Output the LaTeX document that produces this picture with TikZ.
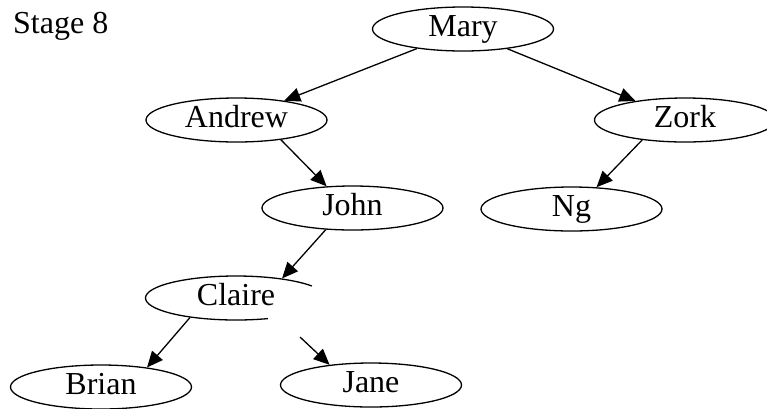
\documentclass[tikz,border=0pt]{standalone}
\usepackage{fontspec}
\setmainfont{Liberation Serif}
\usetikzlibrary{shapes.geometric,arrows.meta}

\begin{document}
\begin{tikzpicture}[x=1pt,y=1pt,
    person/.style={ellipse,draw,line width=1.3pt,
        minimum width=181pt,minimum height=44pt,inner sep=0pt,
        font=\fontsize{32}{38}\selectfont,text height=20pt,text depth=6pt},
    parentof/.style={line width=1.3pt,-{Triangle[length=16pt,width=14pt]}}]
  % ------- parameters -------
  \def\RX{90.5}   % horizontal radius of the ellipses
  \def\RY{22}     % vertical radius of the ellipses

  \useasboundingbox (0,0) rectangle (767,-408);

  % ------- title -------
  \node[anchor=base west,inner sep=0pt,font=\fontsize{32}{38}\selectfont]
        (stage) at (13,-33) {Stage 8};

  % ------- tree nodes -------
  \node[person] (mary)   at (463,-29)    {Mary};
  \node[person] (andrew) at (236.5,-120) {Andrew};
  \node[person] (zork)   at (685,-120)   {Zork};
  \node[person] (john)   at (352.5,-208) {John};
  \node[person] (ng)     at (571.5,-209) {Ng};
  \node[person,draw=none] (claire) at (236,-298) {Claire};
  \node[person] (brian)  at (101,-387)   {Brian};
  \node[person] (jane)   at (371,-385)   {Jane};

  % Claire's outline is torn on the right
  \draw[line width=1.3pt] ([shift={(33:{\RX} and {\RY})}]claire.center)
        arc[start angle=33,end angle=290.6,x radius=\RX,y radius=\RY];

  % ------- links -------
  \draw[parentof] (mary.203)     -- (andrew.22);
  \draw[parentof] (mary.-24)     -- (zork.159);
  \draw[parentof] (andrew.-24)   -- (john.140);
  \draw[parentof] (zork.205)     -- (ng.41);
  \draw[parentof] (john.219)     -- (claire.23.5);
  \draw[parentof] (claire.203.5) -- (brian.23.5);
  \coordinate (gap) at (300,-337);    % torn start of the last link
  \draw[parentof] (gap)          -- (jane.154);
\end{tikzpicture}
\end{document}
